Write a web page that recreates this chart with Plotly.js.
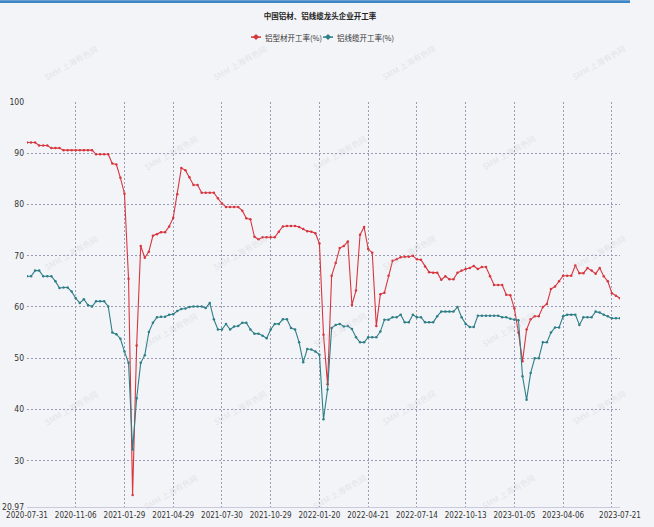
<!DOCTYPE html>
<html>
<head>
<meta charset="utf-8">
<script src="https://cdn.plot.ly/plotly-3.0.1.min.js"></script>
<style>
  html, body { margin: 0; padding: 0; background: #ffffff; }
  #chart { width: 654px; height: 527px; }
</style>
</head>
<body>
<div id="chart"></div>
<script>
// Weekly observations (category index 0 .. 146)
const profileRate = [
  92.1, 92.1, 92.1, 91.5, 91.5, 91.5, 91.0, 91.0, 91.0, 90.6,
  90.6, 90.6, 90.6, 90.6, 90.6, 90.6, 90.6, 89.8, 89.8, 89.8,
  89.8, 88.0, 87.8, 85.2, 82.1, 65.5, 23.3, 52.5, 71.9, 69.6,
  70.8, 73.9, 74.2, 74.6, 74.6, 75.7, 77.4, 82.0, 87.1, 86.7,
  85.3, 83.8, 83.8, 82.3, 82.3, 82.3, 82.3, 81.2, 80.2, 79.5,
  79.5, 79.5, 79.5, 78.8, 77.3, 77.1, 73.7, 73.2, 73.6, 73.6,
  73.6, 73.6, 74.7, 75.7, 75.8, 75.8, 75.8, 75.6, 75.2, 74.8,
  74.7, 74.4, 72.4, 54.6, 44.9, 66.1, 68.6, 71.5, 71.9, 72.8,
  60.4, 63.2, 74.1, 75.6, 71.3, 70.6, 56.3, 62.5, 62.8, 66.1,
  69.0, 69.3, 69.7, 69.8, 69.8, 70.0, 69.3, 69.2, 67.9, 66.8,
  66.7, 66.7, 65.3, 66.0, 65.4, 65.4, 66.7, 67.1, 67.4, 67.6,
  68.0, 67.4, 67.8, 67.8, 66.0, 64.3, 64.3, 64.3, 62.4, 62.3,
  59.7, 55.0, 49.4, 55.6, 57.6, 58.2, 58.2, 60.0, 60.6, 63.5,
  64.0, 65.0, 66.1, 66.1, 66.1, 68.1, 66.6, 66.6, 67.6, 67.1,
  66.5, 67.6, 66.0, 65.0, 62.7, 62.2, 61.7
];
const cableRate = [
  66.0, 66.0, 67.1, 67.1, 66.0, 66.0, 66.0, 65.0, 63.7, 63.8,
  63.8, 63.0, 61.7, 60.8, 61.5, 60.4, 60.1, 61.1, 61.1, 61.1,
  60.1, 55.0, 54.7, 53.8, 51.3, 49.1, 32.2, 42.2, 49.1, 50.6,
  55.1, 56.9, 58.0, 58.1, 58.1, 58.5, 58.6, 59.2, 59.6, 59.7,
  60.0, 60.1, 60.1, 60.1, 59.8, 60.8, 57.6, 55.6, 55.6, 56.7,
  55.6, 56.2, 56.3, 56.9, 56.9, 55.6, 54.8, 54.8, 54.4, 53.9,
  55.6, 56.7, 56.7, 57.6, 57.6, 55.9, 55.6, 53.1, 49.2, 51.8,
  51.7, 51.3, 50.7, 38.1, 43.9, 55.9, 56.5, 56.7, 56.2, 56.3,
  55.7, 54.1, 53.1, 53.1, 54.1, 54.1, 54.1, 55.2, 57.5, 57.5,
  58.0, 58.0, 58.5, 57.0, 57.0, 58.5, 58.0, 58.0, 57.0, 57.0,
  57.0, 58.2, 59.1, 59.1, 59.1, 59.1, 60.0, 58.0, 56.7, 56.1,
  56.1, 58.3, 58.3, 58.3, 58.3, 58.3, 58.3, 58.0, 58.0, 57.7,
  57.5, 57.4, 46.5, 41.9, 47.1, 50.0, 50.0, 53.1, 53.1, 55.0,
  56.0, 56.0, 58.2, 58.5, 58.5, 58.5, 56.5, 58.0, 58.0, 58.0,
  59.1, 58.9, 58.5, 58.2, 57.8, 57.8, 57.8
];
// Axis labels
const xTickIndex = [0, 12, 24, 36, 48, 60, 72, 84, 96, 108, 120, 132, 144, 146];
const xTickText = ['2020-07-31', '2020-11-06', '2021-01-29', '2021-04-29', '2021-07-30',
  '2021-10-29', '2022-01-20', '2022-04-21', '2022-07-14', '2022-10-13', '2023-01-05',
  '2023-04-06', '', '2023-07-21'];
const yTickVals = [20.97, 30, 40, 50, 60, 70, 80, 90, 100];
const yTickText = ['20.97', '30', '40', '50', '60', '70', '80', '90', '100'];
const seriesNames = ['铝型材开工率(%)', '铝线缆开工率(%)'];
const chartTitle = '中国铝材、铝线缆龙头企业开工率';

const idx = profileRate.map((_, i) => i);
const redColor = '#d8363f';
const tealColor = '#2e7f87';
const cjk = 'Noto Sans CJK SC, sans-serif';
const narrow = 'Liberation Sans Narrow, DejaVu Sans Condensed, sans-serif';

const traces = [
  {
    x: idx, y: profileRate, name: seriesNames[0], type: 'scatter', mode: 'lines+markers',
    line: { color: redColor, width: 1.1 },
    marker: { color: redColor, size: 2.5, symbol: 'circle' }
  },
  {
    x: idx, y: cableRate, name: seriesNames[1], type: 'scatter', mode: 'lines+markers',
    line: { color: tealColor, width: 1.1 },
    marker: { color: tealColor, size: 2.5, symbol: 'circle' }
  }
];

// pixel -> paper helpers for decorations
const L = 27, R = 620, T = 102, B = 507.5;
const px = v => (v - L) / (R - L);
const py = v => (B - v) / (B - T);

const annotations = [];
const shapes = [];
// faint watermarks
const wmPos = [[40,40],[240,40],[440,40],[630,40],[140,130],[340,130],[540,130],
  [40,230],[240,230],[440,230],[630,230],[140,330],[340,330],[540,330],
  [40,430],[240,430],[440,430],[630,430],[140,515],[340,515],[540,515]];
wmPos.forEach(p => annotations.push({
  xref: 'paper', yref: 'paper', x: px(p[0]), y: py(p[1]),
  text: 'SMM 上海有色网', showarrow: false, textangle: -30,
  font: { family: cjk, size: 8, color: 'rgba(190,192,205,0.35)' }
}));

// custom compact legend
const legendItems = [
  { x: 251, color: redColor, text: seriesNames[0] },
  { x: 323, color: tealColor, text: seriesNames[1] }
];
const ly = 37;
legendItems.forEach(it => {
  shapes.push({ type: 'line', xref: 'paper', yref: 'paper', x0: px(it.x), x1: px(it.x + 10), y0: py(ly), y1: py(ly),
    line: { color: it.color, width: 1.5 } });
  const cx = it.x + 5, r = 3;
  shapes.push({ type: 'path', xref: 'paper', yref: 'paper',
    path: `M ${px(cx)} ${py(ly - r)} L ${px(cx + r)} ${py(ly)} L ${px(cx)} ${py(ly + r)} L ${px(cx - r)} ${py(ly)} Z`,
    fillcolor: it.color, line: { color: it.color, width: 0 } });
  annotations.push({ xref: 'paper', yref: 'paper', x: px(it.x + 12), y: py(ly), xanchor: 'left', yanchor: 'middle',
    text: it.text, showarrow: false, font: { family: cjk, size: 7.5, color: '#333' } });
});

// top accent bar
shapes.push({ type: 'rect', xref: 'paper', yref: 'paper', x0: px(0), x1: px(630), y0: py(0), y1: py(3),
  fillcolor: '#3d86c6', line: { width: 0 } });

const layout = {
  width: 654, height: 527,
  paper_bgcolor: '#f3f4f7', plot_bgcolor: '#f3f4f7',
  margin: { l: L, r: 654 - R, t: T, b: 527 - B },
  showlegend: false,
  title: {
    text: '<b>' + chartTitle + '</b>',
    font: { family: cjk, size: 7.5, color: '#222' },
    x: 320 / 654, xanchor: 'center', y: 1 - 16 / 527, yanchor: 'middle', yref: 'container'
  },
  xaxis: {
    type: 'linear', range: [0, 146], tickmode: 'array', tickvals: xTickIndex, ticktext: xTickText,
    tickangle: 0,
    showgrid: true, gridcolor: '#9b9bb3', griddash: '2px,2px', gridwidth: 1,
    zeroline: false, showline: true, linecolor: '#c9c9e0', linewidth: 1, mirror: false,
    ticks: '', tickfont: { family: narrow, size: 8, color: '#333' },
    fixedrange: true
  },
  yaxis: {
    range: [20.97, 100], tickmode: 'array', tickvals: yTickVals, ticktext: yTickText,
    showgrid: true, gridcolor: '#9b9bb3', griddash: '2px,2px', gridwidth: 1,
    zeroline: false, showline: false, ticks: '', ticklabelstandoff: 2,
    tickfont: { family: narrow, size: 8.5, color: '#333' },
    fixedrange: true
  },
  annotations: annotations,
  shapes: shapes
};

Plotly.newPlot('chart', traces, layout, { displayModeBar: false, staticPlot: true });
</script>
</body>
</html>
